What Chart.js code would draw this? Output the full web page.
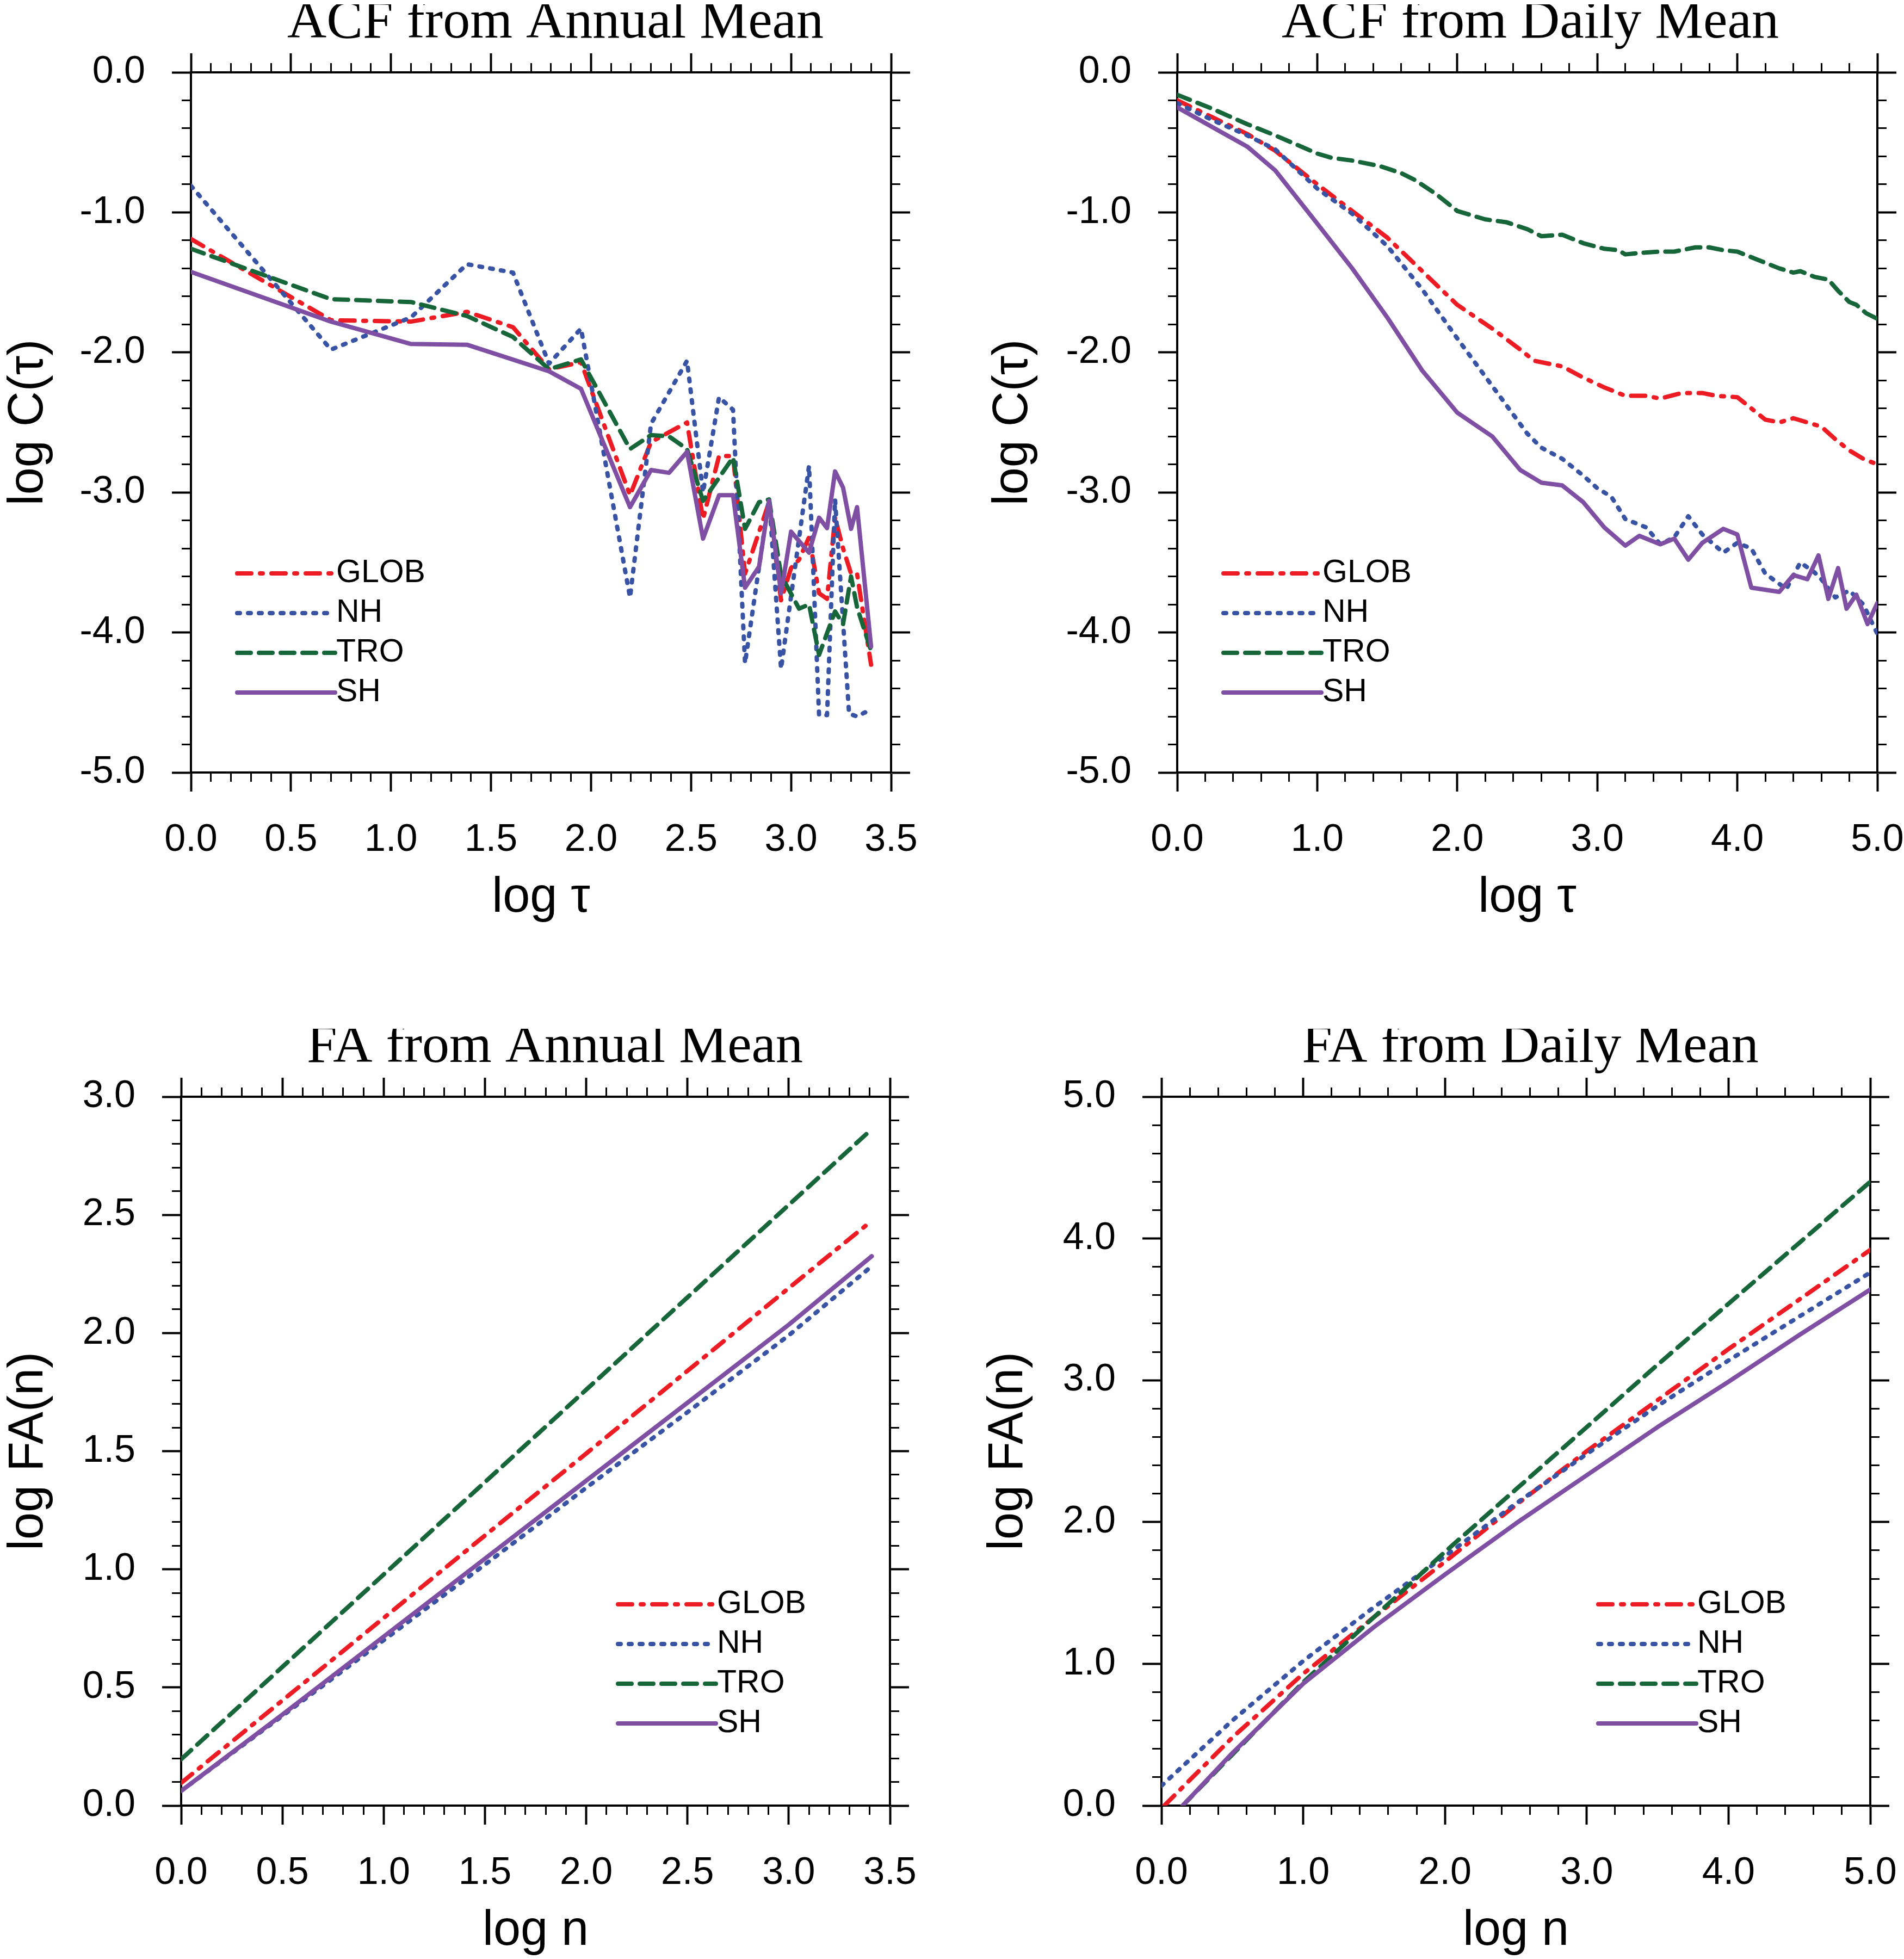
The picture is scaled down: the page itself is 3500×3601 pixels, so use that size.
<!DOCTYPE html>
<html>
<head>
<meta charset="utf-8">
<script src="https://cdn.jsdelivr.net/npm/chart.js@4.4.1/dist/chart.umd.min.js"></script>
<style>
  html, body { margin: 0; padding: 0; background: #fff; width: 3500px; height: 3601px; overflow: hidden; position: relative; }
  canvas { position: absolute; }
</style>
</head>
<body>
<canvas id="acf-annual"></canvas>
<canvas id="acf-daily"></canvas>
<canvas id="fa-annual"></canvas>
<canvas id="fa-daily"></canvas>
<script>
// ---- data ----
const seriesNames = ['GLOB', 'NH', 'TRO', 'SH'];

// ACF from Annual Mean: log tau vs log C(tau)
const acfAnnGlobX = [0, 0.70, 1.10, 1.38, 1.61, 1.79, 1.95, 2.195, 2.30, 2.48, 2.56, 2.64, 2.71, 2.77, 2.89, 2.95, 3.00, 3.04, 3.09, 3.14, 3.18, 3.22, 3.26, 3.30, 3.33, 3.40];
const acfAnnGlobY = [-1.19, -1.77, -1.78, -1.71, -1.82, -2.12, -2.07, -3.02, -2.64, -2.50, -3.19, -2.74, -2.74, -3.58, -3.07, -3.77, -3.54, -3.48, -3.32, -3.72, -3.76, -3.18, -3.40, -3.58, -3.58, -4.23];
const acfAnnNhX = [0, 0.70, 1.10, 1.38, 1.61, 1.79, 1.95, 2.195, 2.30, 2.48, 2.56, 2.64, 2.71, 2.77, 2.89, 2.95, 3.09, 3.14, 3.18, 3.22, 3.29, 3.33, 3.37, 3.40];
const acfAnnNhY = [-0.81, -1.98, -1.75, -1.37, -1.43, -2.08, -1.83, -3.75, -2.51, -2.06, -3.00, -2.32, -2.41, -4.22, -3.04, -4.26, -2.81, -4.59, -4.59, -3.05, -4.58, -4.60, -4.57, -4.60];
const acfAnnTroX = [0, 0.70, 1.10, 1.38, 1.61, 1.79, 1.95, 2.195, 2.30, 2.39, 2.48, 2.56, 2.71, 2.77, 2.84, 2.89, 2.95, 3.04, 3.09, 3.14, 3.22, 3.26, 3.30, 3.33, 3.40];
const acfAnnTroY = [-1.26, -1.62, -1.64, -1.74, -1.89, -2.12, -2.05, -2.69, -2.59, -2.60, -2.69, -3.06, -2.75, -3.26, -3.07, -3.05, -3.59, -3.83, -3.80, -4.16, -3.85, -3.94, -3.60, -3.82, -4.13];
const acfAnnShX = [0, 0.70, 1.10, 1.38, 1.79, 1.95, 2.195, 2.30, 2.39, 2.48, 2.56, 2.64, 2.71, 2.77, 2.84, 2.89, 2.95, 3.00, 3.09, 3.14, 3.18, 3.22, 3.26, 3.30, 3.33, 3.40];
const acfAnnShY = [-1.425, -1.78, -1.94, -1.945, -2.135, -2.26, -3.105, -2.84, -2.86, -2.71, -3.33, -3.02, -3.02, -3.68, -3.53, -3.06, -3.72, -3.28, -3.43, -3.18, -3.255, -2.85, -2.965, -3.26, -3.105, -4.10];

// ACF from Daily Mean
const acfDayGlobX = [0, 0.25, 0.5, 0.7, 1.0, 1.25, 1.5, 1.75, 2.0, 2.25, 2.45, 2.55, 2.75, 2.9, 3.05, 3.2, 3.35, 3.45, 3.6, 3.75, 3.85, 4.0, 4.1, 4.2, 4.3, 4.4, 4.5, 4.6, 4.7, 4.8, 4.9, 5.0];
const acfDayGlobY = [-0.20, -0.32, -0.44, -0.56, -0.80, -0.99, -1.18, -1.42, -1.66, -1.83, -1.98, -2.06, -2.10, -2.18, -2.25, -2.31, -2.31, -2.33, -2.29, -2.29, -2.31, -2.32, -2.40, -2.48, -2.50, -2.47, -2.50, -2.53, -2.62, -2.70, -2.76, -2.80];
const acfDayNhX = [0, 0.25, 0.5, 0.7, 1.0, 1.25, 1.5, 1.75, 2.0, 2.25, 2.5, 2.6, 2.75, 2.9, 3.0, 3.1, 3.2, 3.35, 3.45, 3.55, 3.65, 3.75, 3.9, 4.0, 4.1, 4.2, 4.35, 4.45, 4.55, 4.6, 4.7, 4.8, 4.9, 5.0];
const acfDayNhY = [-0.22, -0.34, -0.45, -0.55, -0.83, -1.01, -1.24, -1.55, -1.90, -2.24, -2.58, -2.68, -2.76, -2.88, -2.97, -3.03, -3.19, -3.25, -3.37, -3.32, -3.17, -3.30, -3.43, -3.36, -3.40, -3.58, -3.69, -3.50, -3.57, -3.62, -3.75, -3.70, -3.80, -4.01];
const acfDayTroX = [0, 0.25, 0.5, 0.7, 1.0, 1.1, 1.25, 1.45, 1.6, 1.7, 1.85, 2.0, 2.2, 2.35, 2.5, 2.6, 2.75, 2.9, 3.05, 3.15, 3.2, 3.3, 3.45, 3.55, 3.7, 3.8, 3.9, 4.0, 4.15, 4.3, 4.4, 4.45, 4.55, 4.65, 4.72, 4.8, 4.85, 4.92, 5.0];
const acfDayTroY = [-0.16, -0.26, -0.37, -0.45, -0.58, -0.61, -0.63, -0.67, -0.72, -0.77, -0.87, -0.99, -1.05, -1.07, -1.12, -1.17, -1.16, -1.22, -1.26, -1.27, -1.30, -1.29, -1.28, -1.28, -1.25, -1.25, -1.27, -1.28, -1.34, -1.40, -1.43, -1.42, -1.46, -1.48, -1.56, -1.64, -1.66, -1.72, -1.76];
const acfDayShX = [0, 0.25, 0.5, 0.7, 1.0, 1.25, 1.5, 1.75, 2.0, 2.25, 2.45, 2.6, 2.75, 2.9, 3.05, 3.2, 3.3, 3.45, 3.55, 3.65, 3.75, 3.9, 4.0, 4.1, 4.3, 4.4, 4.5, 4.58, 4.65, 4.72, 4.78, 4.85, 4.93, 5.0];
const acfDayShY = [-0.25, -0.39, -0.53, -0.70, -1.08, -1.40, -1.75, -2.13, -2.43, -2.60, -2.84, -2.93, -2.95, -3.07, -3.25, -3.38, -3.31, -3.37, -3.33, -3.48, -3.36, -3.26, -3.30, -3.68, -3.71, -3.59, -3.62, -3.45, -3.76, -3.54, -3.83, -3.73, -3.94, -3.79];

// FA from Annual Mean: log n vs log FA(n)
const faAnnX = [0, 0.5, 1.0, 1.5, 2.0, 2.5, 3.0, 3.41];
const faAnnGlobY = [0.096, 0.445, 0.794, 1.143, 1.49, 1.84, 2.19, 2.475];
const faAnnNhY = [0.062, 0.38, 0.70, 1.02, 1.345, 1.665, 1.99, 2.283];
const faAnnTroY = [0.196, 0.587, 0.978, 1.369, 1.76, 2.151, 2.542, 2.863];
const faAnnShY = [0.062, 0.385, 0.715, 1.045, 1.375, 1.705, 2.035, 2.325];

// FA from Daily Mean
const faDayGlobX = [0.02, 0.5, 1.0, 1.5, 2.0, 2.5, 3.0, 3.5, 4.0, 4.5, 5.0];
const faDayGlobY = [0.0, 0.48, 0.93, 1.33, 1.72, 2.12, 2.50, 2.86, 3.22, 3.57, 3.92];
const faDayNhX = [0, 0.5, 1.0, 1.5, 2.0, 2.5, 3.0, 3.5, 4.0, 4.5, 5.0];
const faDayNhY = [0.14, 0.60, 1.02, 1.40, 1.76, 2.13, 2.48, 2.82, 3.14, 3.45, 3.76];
const faDayTroX = [0.15, 0.5, 1.0, 1.5, 2.0, 2.5, 3.0, 3.5, 4.0, 4.5, 5.0];
const faDayTroY = [0.0, 0.36, 0.87, 1.33, 1.79, 2.23, 2.67, 3.11, 3.54, 3.97, 4.40];
const faDayShX = [0.15, 0.5, 1.0, 1.5, 2.0, 2.5, 3.0, 3.5, 4.0, 4.5, 5.0];
const faDayShY = [0.0, 0.37, 0.86, 1.26, 1.63, 1.99, 2.33, 2.67, 2.99, 3.32, 3.64];

// ---- styles ----
const seriesColor = { GLOB: '#ed1c24', NH: '#3953a4', TRO: '#17663a', SH: '#7f4fa3' };
const seriesDash = { GLOB: [26, 16, 5, 16], NH: [5, 15], TRO: [25, 15], SH: [] };
const seriesOrder = { GLOB: 3, NH: 2, TRO: 1, SH: 0 }; // SH drawn last

Chart.defaults.font.family = "'Liberation Sans', Arial, sans-serif";
Chart.defaults.color = '#000';

// page geometry: canvas edge to plot box
const LEFT_BOX = 351;
const TOP_BOX = 125;
const BOTTOM_BOX = 300;
const TITLE_SIZE = 100;
const TITLE_LH = 0.7;
const AXIS_TITLE = 90;

const pts = (xs, ys) => xs.map((x, i) => ({ x: x, y: ys[i] }));
const isMajor = (v, step) => Math.abs(v / step - Math.round(v / step)) < 1e-6;

function lineSet(name, xs, ys) {
  return {
    label: name,
    data: pts(xs, ys),
    borderColor: seriesColor[name],
    borderDash: seriesDash[name],
    borderWidth: 8,
    borderCapStyle: 'round',
    borderJoinStyle: 'round',
    pointRadius: 0,
    tension: 0,
    fill: false,
    order: seriesOrder[name],
  };
}

// ticks point outward; minor ones are cut short with a dash pattern
function gridFor(major, side) {
  const fromOuter = side === 'left' || side === 'top';
  return {
    drawOnChartArea: false,
    drawTicks: true,
    tickLength: 35,
    tickColor: '#000',
    tickWidth: c => isMajor(c.tick.value, major) ? 4 : 3,
    tickBorderDash: c => isMajor(c.tick.value, major) ? [] : [15, 100],
    tickBorderDashOffset: c => (fromOuter && !isMajor(c.tick.value, major)) ? 97 : 0,
  };
}

const border = { display: true, width: 4, color: '#000' };

// draws the legend inside the plot area
const insetLegend = {
  id: 'insetLegend',
  afterDraw(chart, args, opts) {
    const { ctx, chartArea } = chart;
    ctx.save();
    chart.data.datasets.forEach((ds, i) => {
      const x0 = chartArea.left + opts.left;
      const y = chartArea.top + opts.top + i * opts.rowGap;
      ctx.beginPath();
      ctx.setLineDash(ds.borderDash);
      ctx.lineCap = 'round';
      ctx.lineWidth = ds.borderWidth;
      ctx.strokeStyle = ds.borderColor;
      ctx.moveTo(x0, y);
      ctx.lineTo(x0 + opts.lineLength, y);
      ctx.stroke();
      ctx.setLineDash([]);
      ctx.fillStyle = '#000';
      ctx.font = opts.fontSize + "px 'Liberation Sans', Arial, sans-serif";
      ctx.textBaseline = 'middle';
      ctx.textAlign = 'left';
      ctx.fillText(ds.label, x0 + opts.lineLength + 2, y);
    });
    ctx.restore();
  },
};

function makePanel(id, p) {
  const canvas = document.getElementById(id);
  const L = p.plot[0] - LEFT_BOX;
  // canvas is symmetric about the title centre; the right axis box takes the slack
  const W = Math.round(2 * (p.titleX - L));
  const rightBox = W - (p.plot[2] - L);
  const T = p.plot[1] - TOP_BOX;
  const H = p.plot[3] + BOTTOM_BOX - T;
  canvas.width = W;
  canvas.height = H;
  canvas.style.left = L + 'px';
  canvas.style.top = T + 'px';
  canvas.style.width = W + 'px';
  canvas.style.height = H + 'px';

  const titleH = TITLE_SIZE * TITLE_LH;
  const labelFmt = (major) => (v) => isMajor(v, major) ? v.toFixed(1) : '';

  return new Chart(canvas, {
    type: 'line',
    data: { datasets: p.datasets },
    plugins: [insetLegend],
    options: {
      responsive: false,
      animation: false,
      devicePixelRatio: 1,
      layout: { padding: 0 },
      plugins: {
        legend: { display: false },
        tooltip: { enabled: false },
        title: {
          display: true,
          text: p.title,
          color: '#000',
          padding: 0,
          font: { family: "'Liberation Serif', 'Times New Roman', serif", size: TITLE_SIZE, weight: 'normal', lineHeight: TITLE_LH },
        },
        insetLegend: p.legend,
      },
      scales: {
        x: {
          type: 'linear', position: 'bottom',
          min: p.x.min, max: p.x.max,
          ticks: { stepSize: p.x.step, autoSkip: false, maxRotation: 0, padding: 48, font: { size: 70 }, color: '#000', callback: labelFmt(p.x.major) },
          grid: gridFor(p.x.major, 'bottom'),
          border: border,
          title: { display: true, text: p.x.title, color: '#000', font: { size: AXIS_TITLE }, padding: { top: 0, bottom: 15 } },
          afterFit: s => { s.height = BOTTOM_BOX; },
        },
        x2: {
          type: 'linear', position: 'top',
          min: p.x.min, max: p.x.max,
          ticks: { stepSize: p.x.step, autoSkip: false, display: false },
          grid: gridFor(p.x.major, 'top'),
          border: border,
          afterFit: s => { s.height = TOP_BOX - titleH; },
        },
        y: {
          type: 'linear', position: 'left',
          min: p.y.min, max: p.y.max,
          ticks: { stepSize: p.y.step, autoSkip: false, padding: 49, font: { size: 70 }, color: '#000', callback: labelFmt(p.y.major) },
          grid: gridFor(p.y.major, 'left'),
          border: border,
          title: { display: true, text: p.y.title, color: '#000', font: { size: AXIS_TITLE }, padding: { top: LEFT_BOX - p.yTitleGap - AXIS_TITLE * 0.6, bottom: 0 } },
          afterFit: s => { s.width = LEFT_BOX; },
        },
        y2: {
          type: 'linear', position: 'right',
          min: p.y.min, max: p.y.max,
          ticks: { stepSize: p.y.step, autoSkip: false, display: false },
          grid: gridFor(p.y.major, 'right'),
          border: border,
          afterFit: s => { s.width = rightBox; },
        },
      },
    },
  });
}

const topLegend = { left: 85, top: 921, rowGap: 73, lineLength: 180, fontSize: 59 };
const bottomLegend = { left: 803, top: 933, rowGap: 73, lineLength: 180, fontSize: 59 };

makePanel('acf-annual', {
  plot: [351, 133, 1638, 1420], titleX: 1021, yTitleGap: 298,
  title: 'ACF from Annual Mean',
  x: { min: 0, max: 3.5, step: 0.1, major: 0.5, title: 'log τ' },
  y: { min: -5, max: 0, step: 0.2, major: 1, title: 'log C(τ)' },
  legend: topLegend,
  datasets: [
    lineSet('GLOB', acfAnnGlobX, acfAnnGlobY),
    lineSet('NH', acfAnnNhX, acfAnnNhY),
    lineSet('TRO', acfAnnTroX, acfAnnTroY),
    lineSet('SH', acfAnnShX, acfAnnShY),
  ],
});

makePanel('acf-daily', {
  plot: [2164, 133, 3451, 1420], titleX: 2813, yTitleGap: 301,
  title: 'ACF from Daily Mean',
  x: { min: 0, max: 5, step: 0.2, major: 1, title: 'log τ' },
  y: { min: -5, max: 0, step: 0.2, major: 1, title: 'log C(τ)' },
  legend: topLegend,
  datasets: [
    lineSet('GLOB', acfDayGlobX, acfDayGlobY),
    lineSet('NH', acfDayNhX, acfDayNhY),
    lineSet('TRO', acfDayTroX, acfDayTroY),
    lineSet('SH', acfDayShX, acfDayShY),
  ],
});

makePanel('fa-annual', {
  plot: [333, 2016, 1636, 3319], titleX: 1020, yTitleGap: 280,
  title: 'FA from Annual Mean',
  x: { min: 0, max: 3.5, step: 0.1, major: 0.5, title: 'log n' },
  y: { min: 0, max: 3, step: 0.1, major: 0.5, title: 'log FA(n)' },
  legend: bottomLegend,
  datasets: [
    lineSet('GLOB', faAnnX, faAnnGlobY),
    lineSet('NH', faAnnX, faAnnNhY),
    lineSet('TRO', faAnnX, faAnnTroY),
    lineSet('SH', faAnnX, faAnnShY),
  ],
});

makePanel('fa-daily', {
  plot: [2135, 2016, 3438, 3319], titleX: 2813, yTitleGap: 281,
  title: 'FA from Daily Mean',
  x: { min: 0, max: 5, step: 0.2, major: 1, title: 'log n' },
  y: { min: 0, max: 5, step: 0.2, major: 1, title: 'log FA(n)' },
  legend: bottomLegend,
  datasets: [
    lineSet('GLOB', faDayGlobX, faDayGlobY),
    lineSet('NH', faDayNhX, faDayNhY),
    lineSet('TRO', faDayTroX, faDayTroY),
    lineSet('SH', faDayShX, faDayShY),
  ],
});
</script>
</body>
</html>
